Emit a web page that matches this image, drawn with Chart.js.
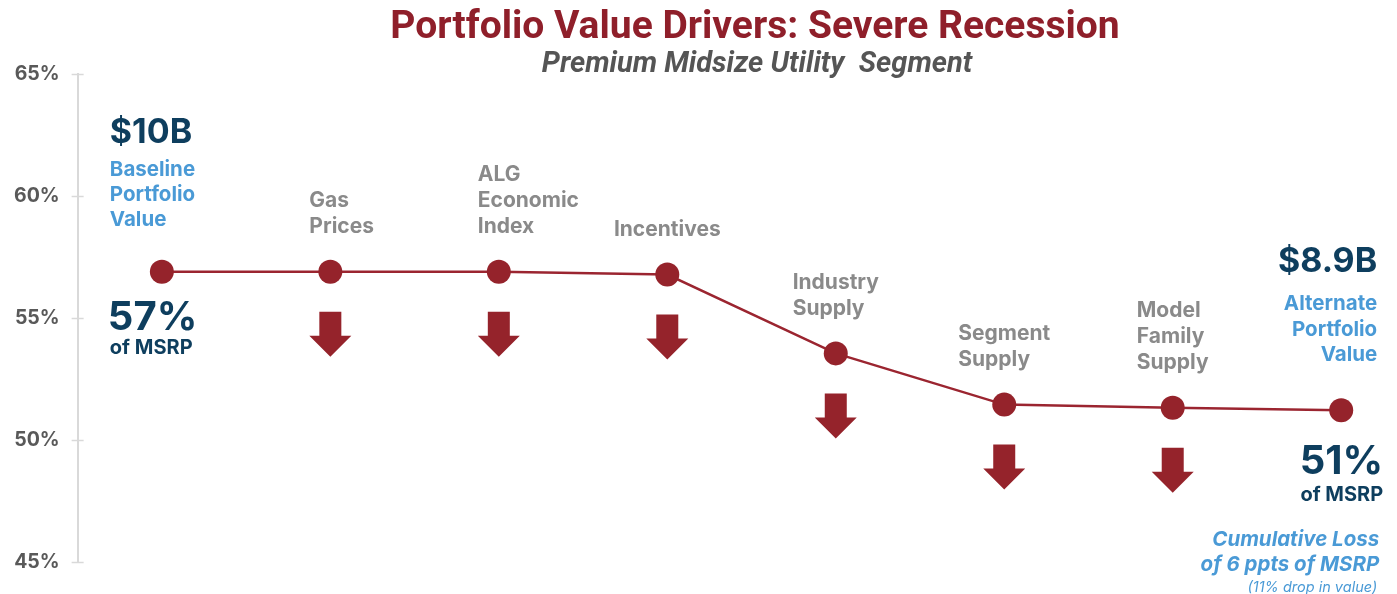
<!DOCTYPE html>
<html>
<head>
<meta charset="utf-8">
<script src="https://cdn.jsdelivr.net/npm/chart.js@4/dist/chart.umd.min.js"></script>
<style>
  html, body { margin: 0; padding: 0; background: #fff; overflow: hidden; }
  canvas { display: block; }
</style>
</head>
<body>
<canvas id="driversChart" width="1397" height="594"></canvas>
<script>
  /* Portfolio value drivers — severe recession scenario
   * residual value as % of MSRP after each driver is applied */
  var STAGES = ['Baseline', 'Gas Prices', 'ALG Economic Index', 'Incentives',
    'Industry Supply', 'Segment Supply', 'Model Family Supply', 'Alternate'];
  var DRIVER_LINES = [null, ['Gas', 'Prices'], ['ALG', 'Economic', 'Index'], ['Incentives'],
    ['Industry', 'Supply'], ['Segment', 'Supply'], ['Model', 'Family', 'Supply'], null];
  var PCT_OF_MSRP = [56.9, 56.9, 56.9, 56.78, 53.55, 51.45, 51.32, 51.22];
  var PORTFOLIO_VALUE_B = [10, 8.9];
  var Y_TICKS = [45, 50, 55, 60, 65];

  var RED = '#95232b';
  var NAVY = '#0e3e5e';
  var BLUE = '#4a9ad6';
  var GREY = '#8a8a8a';
  var FONT = "Inter, 'DejaVu Sans', sans-serif";

  function txt(ctx, s, x, y, font, color, align) {
    ctx.font = font;
    ctx.fillStyle = color;
    ctx.textAlign = align || 'left';
    ctx.textBaseline = 'middle';
    ctx.fillText(s, x, y);
  }

  var annotations = {
    id: 'annotations',
    afterDraw: function (chart) {
      var ctx = chart.ctx;
      var pts = chart.getDatasetMeta(0).data;
      var ys = chart.scales.y;
      var area = chart.chartArea;
      ctx.save();

      // ticks crossing the axis line
      ctx.strokeStyle = '#d9d9d9';
      ctx.lineWidth = 1.5;
      Y_TICKS.forEach(function (t) {
        var py = Math.round(ys.getPixelForValue(t)) + 0.5;
        ctx.beginPath();
        ctx.moveTo(area.left - 6, py);
        ctx.lineTo(area.left + 6, py);
        ctx.stroke();
      });

      // title
      txt(ctx, 'Portfolio Value Drivers: Severe Recession', 755, 28, "bold 39px Roboto, sans-serif", '#8f1f2a', 'center');
      txt(ctx, 'Premium Midsize Utility  Segment', 757, 65, "italic bold 29px Roboto, sans-serif", '#555555', 'center');

      // driver labels + down arrows
      var lf = 'bold 21px ' + FONT;
      pts.forEach(function (p, i) {
        var lines = DRIVER_LINES[i];
        if (!lines) return;
        ctx.font = lf;
        var w = 0;
        lines.forEach(function (l) { w = Math.max(w, ctx.measureText(l).width); });
        var shift = (i === 1 || i === 2) ? -21 : -w / 2;
        lines.forEach(function (l, k) {
          var ly = p.y - 45 - (lines.length - 1 - k) * 26;
          txt(ctx, l, p.x + shift, ly, lf, GREY, 'left');
        });

        ctx.fillStyle = RED;
        ctx.beginPath();
        ctx.moveTo(p.x - 11, p.y + 40);
        ctx.lineTo(p.x + 11, p.y + 40);
        ctx.lineTo(p.x + 11, p.y + 64);
        ctx.lineTo(p.x + 21, p.y + 64);
        ctx.lineTo(p.x, p.y + 85);
        ctx.lineTo(p.x - 21, p.y + 64);
        ctx.lineTo(p.x - 11, p.y + 64);
        ctx.closePath();
        ctx.fill();
      });

      // baseline block
      var a = pts[0];
      var lx = a.x - 52;
      txt(ctx, '$' + PORTFOLIO_VALUE_B[0] + 'B', lx, a.y - 139, 'bold 34px ' + FONT, NAVY);
      ['Baseline', 'Portfolio', 'Value'].forEach(function (l, k) {
        txt(ctx, l, lx, a.y - 102 + k * 25, 'bold 20.5px ' + FONT, BLUE);
      });
      txt(ctx, Math.round(PCT_OF_MSRP[0]) + '%', lx - 2, a.y + 46, 'bold 40px ' + FONT, NAVY);
      txt(ctx, 'of MSRP', lx, a.y + 76, 'bold 20px ' + FONT, NAVY);

      // alternate block
      var b = pts[pts.length - 1];
      var rx = b.x + 36;
      txt(ctx, '$' + PORTFOLIO_VALUE_B[1] + 'B', rx, b.y - 148, 'bold 34px ' + FONT, NAVY, 'right');
      ['Alternate', 'Portfolio', 'Value'].forEach(function (l, k) {
        txt(ctx, l, rx, b.y - 106 + k * 25.5, 'bold 20.5px ' + FONT, BLUE, 'right');
      });
      var last = PCT_OF_MSRP[PCT_OF_MSRP.length - 1];
      txt(ctx, Math.round(last) + '%', b.x + 42, b.y + 52, 'bold 40px ' + FONT, NAVY, 'right');
      txt(ctx, 'of MSRP', b.x + 42, b.y + 85, 'bold 20px ' + FONT, NAVY, 'right');
      txt(ctx, 'Cumulative Loss', b.x + 38, b.y + 130, 'italic bold 20.5px ' + FONT, BLUE, 'right');
      txt(ctx, 'of 6 ppts of MSRP', b.x + 38, b.y + 155, 'italic bold 20.5px ' + FONT, BLUE, 'right');
      txt(ctx, '(11% drop in value)', b.x + 36, b.y + 177, 'italic 14.5px ' + FONT, BLUE, 'right');

      ctx.restore();
    }
  };

  new Chart(document.getElementById('driversChart').getContext('2d'), {
    type: 'line',
    data: {
      datasets: [{
        label: 'Residual value (% of MSRP)',
        data: PCT_OF_MSRP.map(function (v, i) { return { x: i, y: v }; }),
        borderColor: '#9b2530',
        borderWidth: 2.5,
        pointRadius: 12,
        pointHoverRadius: 12,
        pointBackgroundColor: RED,
        pointBorderColor: RED,
        pointBorderWidth: 0,
        tension: 0
      }]
    },
    options: {
      responsive: false,
      animation: false,
      layout: { padding: { top: 74, bottom: 32, left: 4, right: 0 } },
      plugins: {
        legend: { display: false },
        tooltip: { enabled: false }
      },
      scales: {
        x: {
          type: 'linear',
          min: -0.5,
          max: 7.26,
          display: false
        },
        y: {
          min: 45,
          max: 65,
          afterBuildTicks: function (scale) {
            scale.ticks = Y_TICKS.map(function (v) { return { value: v }; });
          },
          grid: { display: false },
          border: { display: true, color: '#d9d9d9', width: 2 },
          ticks: {
            padding: 10,
            color: '#595959',
            font: { family: FONT, size: 19.5, weight: 'bold' },
            callback: function (v) { return v + '%'; }
          }
        }
      }
    },
    plugins: [annotations]
  });
</script>
</body>
</html>
